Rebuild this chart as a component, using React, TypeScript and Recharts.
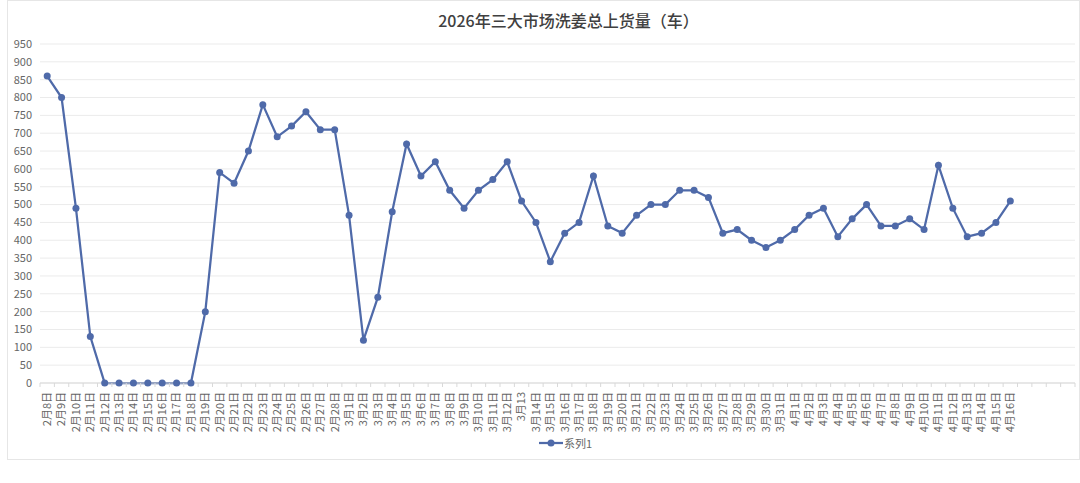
import { LineChart, Line, XAxis, YAxis, CartesianGrid, Legend } from "recharts";

const title = "2026年三大市场洗姜总上货量（车）";
const seriesName = "系列1";

const febDays = [
  "2月8日", "2月9日", "2月10日", "2月11日", "2月12日", "2月13日", "2月14日",
  "2月15日", "2月16日", "2月17日", "2月18日", "2月19日", "2月20日", "2月21日",
  "2月22日", "2月23日", "2月24日", "2月25日", "2月26日", "2月27日", "2月28日",
];
const marDays = [
  "3月1日", "3月2日", "3月3日", "3月4日", "3月5日", "3月6日", "3月7日", "3月8日",
  "3月9日", "3月10日", "3月11日", "3月12日", "3月13", "3月14日", "3月15日",
  "3月16日", "3月17日", "3月18日", "3月19日", "3月20日", "3月21日", "3月22日",
  "3月23日", "3月24日", "3月25日", "3月26日", "3月27日", "3月28日", "3月29日",
  "3月30日", "3月31日",
];
const aprDays = [
  "4月1日", "4月2日", "4月3日", "4月4日", "4月5日", "4月6日", "4月7日", "4月8日",
  "4月9日", "4月10日", "4月11日", "4月12日", "4月13日", "4月14日", "4月15日", "4月16日",
];
// empty slots left at the end of the axis
const blankSlots = ["", "", "", ""];

const febValues = [860, 800, 490, 130, 0, 0, 0, 0, 0, 0, 0, 200, 590, 560, 650, 780, 690, 720, 760, 710, 710];
const marValues = [
  470, 120, 240, 480, 670, 580, 620, 540, 490, 540, 570, 620, 510, 450, 340, 420,
  450, 580, 440, 420, 470, 500, 500, 540, 540, 520, 420, 430, 400, 380, 400,
];
const aprValues = [430, 470, 490, 410, 460, 500, 440, 440, 460, 430, 610, 490, 410, 420, 450, 510];

const yTicks = [0, 50, 100, 150, 200, 250, 300, 350, 400, 450, 500, 550, 600, 650, 700, 750, 800, 850, 900, 950];

const categories = [...febDays, ...marDays, ...aprDays, ...blankSlots];
const values = [...febValues, ...marValues, ...aprValues];
const chartData = categories.map((day, i) => ({
  day,
  [seriesName]: i < values.length ? values[i] : null,
}));

const W = 1071;
const H = 458;
const margin = { top: 43, right: 4, bottom: 0, left: 0 };
const yAxisWidth = 32;
const band = (W - margin.left - margin.right - yAxisWidth) / categories.length;

const lineColor = "#4f6aa9";
const font = '"Noto Sans CJK SC", "Noto Sans", sans-serif';

const XTick = (props: any) => {
  const { x, y, payload, index } = props;
  const top = y - 8;
  return (
    <g>
      <line x1={x - band / 2} x2={x - band / 2} y1={top} y2={top + 4} stroke="#d9d9d9" />
      {index === categories.length - 1 && (
        <line x1={x + band / 2} x2={x + band / 2} y1={top} y2={top + 4} stroke="#d9d9d9" />
      )}
      <text
        x={x}
        y={top + 9}
        transform={`rotate(-90, ${x}, ${top + 9})`}
        textAnchor="end"
        dy="0.35em"
        fontSize={11}
        fill="#666"
        fontFamily={font}
      >
        {payload.value}
      </text>
    </g>
  );
};

const App = () => {
  return (
    <div
      style={{
        position: "absolute",
        left: 7,
        top: 0,
        width: W,
        height: H,
        border: "1px solid #e6e6e6",
        background: "#fff",
        fontFamily: font,
      }}
    >
      <div
        style={{
          position: "absolute",
          top: 7,
          left: 18,
          width: W + 14,
          textAlign: "center",
          fontSize: 16,
          color: "#404040",
          fontWeight: 500,
        }}
      >
        {title}
      </div>
      <LineChart width={W} height={H} data={chartData} margin={margin}>
        <CartesianGrid vertical={false} stroke="#ebebeb" />
        <XAxis
          dataKey="day"
          interval={0}
          height={52}
          padding={{ left: band / 2, right: band / 2 }}
          tickLine={false}
          axisLine={{ stroke: "#d9d9d9" }}
          tick={<XTick />}
        />
        <YAxis
          width={yAxisWidth}
          domain={[0, 950]}
          ticks={yTicks}
          interval={0}
          axisLine={false}
          tickLine={false}
          tick={{ fontSize: 11, fill: "#666", fontFamily: font }}
        />
        <Legend
          verticalAlign="bottom"
          height={24}
          wrapperStyle={{ fontSize: 11, color: "#666", fontFamily: font }}
          content={() => (
            <div style={{ display: "flex", justifyContent: "center", alignItems: "center", paddingLeft: 48 }}>
              <svg width={24} height={10}>
                <line x1={0} x2={24} y1={5} y2={5} stroke={lineColor} strokeWidth={2.25} />
                <circle cx={12} cy={5} r={3.5} fill={lineColor} />
              </svg>
              <span style={{ fontSize: 11, color: "#666", marginLeft: 1 }}>{seriesName}</span>
            </div>
          )}
        />
        <Line
          type="linear"
          dataKey={seriesName}
          stroke={lineColor}
          strokeWidth={2.25}
          dot={{ r: 3.5, fill: lineColor, stroke: lineColor, strokeWidth: 0 }}
          activeDot={false}
          connectNulls={false}
          isAnimationActive={false}
        />
      </LineChart>
    </div>
  );
};

export default App;
